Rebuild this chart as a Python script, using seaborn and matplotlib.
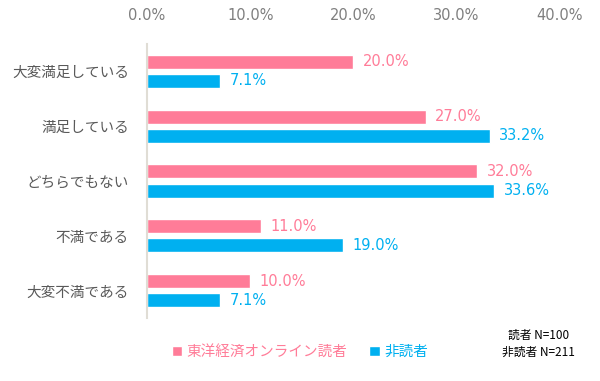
import pandas as pd
import seaborn as sns
import matplotlib.pyplot as plt
from matplotlib.ticker import FuncFormatter

# data
categories = ["大変満足している", "満足している", "どちらでもない", "不満である", "大変不満である"]
groups = ["東洋経済オンライン読者", "非読者"]
reader = [20.0, 27.0, 32.0, 11.0, 10.0]
non_reader = [7.1, 33.2, 33.6, 19.0, 7.1]
colors = ["#FF7C98", "#00B0F0"]

df = pd.DataFrame({
    "cat": categories * 2,
    "val": reader + non_reader,
    "group": [groups[0]] * 5 + [groups[1]] * 5,
})

sns.set_style("white")
# DejaVu for the digits (wide like the original), CJK for the Japanese
plt.rcParams['font.family'] = ['DejaVu Sans', 'Noto Sans CJK JP']

fig = plt.figure(figsize=(6, 3.81), dpi=100)
ax = fig.add_axes([0.245, 0.165, 0.688, 0.72])

sns.barplot(data=df, y="cat", x="val", hue="group", orient="h",
            palette=colors, saturation=1, width=0.7, gap=0.27, ax=ax)

# value labels
for cont, c in zip(ax.containers, colors):
    ax.bar_label(cont, fmt="%.1f%%", padding=7, color=c, fontsize=10.5)

ax.set_xlim(0, 40)
ax.set_ylim(4.5, -0.5)
ax.set_xticks([0, 10, 20, 30, 40])
ax.xaxis.set_major_formatter(FuncFormatter(lambda v, p: f"{v:.1f}%"))
ax.xaxis.tick_top()
ax.tick_params(axis="x", length=0, pad=15, labelsize=10.5, labelcolor="#7f7f7f")
ax.tick_params(axis="y", length=0, pad=13, labelsize=10.5, labelcolor="#595959")
ax.set_xlabel("")
ax.set_ylabel("")

for s in ["top", "right", "bottom"]:
    ax.spines[s].set_visible(False)
ax.spines["left"].set_color("#e0ddd5")
ax.spines["left"].set_linewidth(1.5)

# legend at the bottom
sns.move_legend(ax, "center", bbox_to_anchor=(0.5, 0.078), bbox_transform=fig.transFigure,
                ncol=2, frameon=False, title=None, fontsize=10.5,
                handlelength=0.7, handleheight=0.7, handletextpad=0.3,
                columnspacing=1.5, labelcolor=colors)

fig.text(0.897, 0.12, "読者 N=100", ha="center", va="center", fontsize=8.5,
         color="black", family=["Noto Sans CJK JP", "DejaVu Sans"])
fig.text(0.897, 0.075, "非読者 N=211", ha="center", va="center", fontsize=8.5,
         color="black", family=["Noto Sans CJK JP", "DejaVu Sans"])

plt.savefig("out.png", dpi=100)
